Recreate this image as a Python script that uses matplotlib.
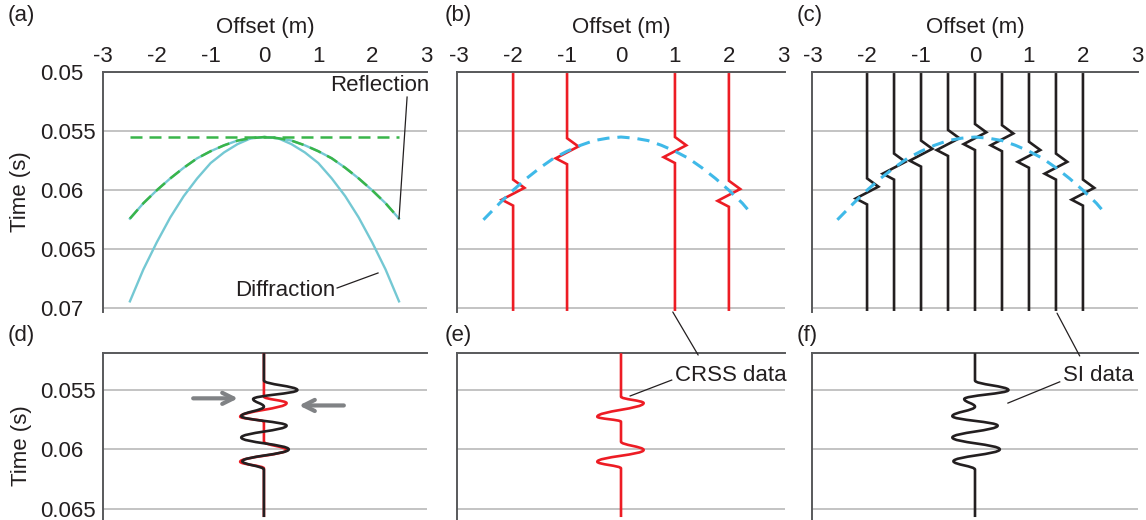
import matplotlib
matplotlib.use('Agg')
import matplotlib.pyplot as plt
from matplotlib.path import Path
from matplotlib.patches import PathPatch, ConnectionPatch

plt.rcParams['font.family'] = ['Liberation Sans', 'DejaVu Sans']
plt.rcParams['font.size'] = 16

# ---------------- data ----------------
offset_ticks = [-3, -2, -1, 0, 1, 2, 3]
offset_tick_labels = ['-3', '-2', '-1', '0', '1', '2', '3']
time_ticks_top = [0.05, 0.055, 0.06, 0.065, 0.07]
time_tick_labels_top = ['0.05', '0.055', '0.06', '0.065', '0.07']
time_ticks_bottom = [0.055, 0.06, 0.065]
time_tick_labels_bottom = ['0.055', '0.06', '0.065']

curve_offsets = [-2.5, -2.25, -2.0, -1.75, -1.5, -1.25, -1.0, -0.75, -0.5, -0.25, 0.0,
                 0.25, 0.5, 0.75, 1.0, 1.25, 1.5, 1.75, 2.0, 2.25, 2.5]
reflection_times = [0.0624, 0.0611, 0.0600, 0.0590, 0.0581, 0.0573, 0.0567, 0.0562, 0.0558, 0.0556, 0.0555,
                    0.0556, 0.0558, 0.0562, 0.0567, 0.0573, 0.0581, 0.0590, 0.0600, 0.0611, 0.0624]
diffraction_times = [0.0694, 0.0667, 0.0644, 0.0623, 0.0605, 0.0590, 0.0577, 0.0568, 0.0561, 0.0556, 0.0555,
                     0.0556, 0.0561, 0.0568, 0.0577, 0.0590, 0.0605, 0.0623, 0.0644, 0.0667, 0.0694]
flat_offsets = [-2.5, 2.5]
flat_times = [0.0555, 0.0555]

guide_offsets = [-2.55, -2.25, -2.0, -1.75, -1.5, -1.25, -1.0, -0.75, -0.5, -0.25, 0.0,
                 0.25, 0.5, 0.75, 1.0, 1.25, 1.5, 1.75, 2.0, 2.25, 2.4]
guide_times = [0.0625, 0.0611, 0.0600, 0.0590, 0.0581, 0.0573, 0.0567, 0.0562, 0.0558, 0.0556, 0.0555,
               0.0556, 0.0558, 0.0562, 0.0567, 0.0573, 0.0581, 0.0590, 0.0600, 0.0611, 0.0619]

crss_offsets = [-2, -1, 1, 2]
crss_onsets = [0.0591, 0.0556, 0.0555, 0.0592]
si_offsets = [-2, -1.5, -1, -0.5, 0, 0.5, 1, 1.5, 2]
si_onsets = [0.0590, 0.0569, 0.0558, 0.0549, 0.0544, 0.0545, 0.0559, 0.0569, 0.0591]
zig_dt = [0.0, 0.0007, 0.0017, 0.0022]
zig_amp = [0.0, 0.21, -0.21, 0.0]

red_times = [0.0519, 0.05556, 0.0561, 0.05725, 0.05767, 0.05935, 0.06005, 0.06104, 0.0616, 0.0657]
red_amps = [0, 0, 0.42, -0.44, 0, 0, 0.42, -0.44, 0, 0]
black_times = [0.0519, 0.0542, 0.0550, 0.05576, 0.0564, 0.0572, 0.0580, 0.0590, 0.0600, 0.0610, 0.0617, 0.0657]
black_amps = [0, 0, 0.62, -0.20, 0.0, -0.42, 0.42, -0.42, 0.46, -0.40, 0, 0]

# ---------------- style ----------------
W, H = 1146, 520
INK = '#231f20'
SPINE = '#58595b'
GRID = '#b3b3b3'
CYAN = '#74c8d3'
GREEN = '#39b54a'
BLUE = '#3fb9e8'
RED = '#ed1c24'
ARROW = '#808285'


def pos(l, r, t, b):
    return [l / W, 1 - b / H, (r - l) / W, (b - t) / H]


fig = plt.figure(figsize=(W / 100, H / 100), dpi=100)
ax_a = fig.add_axes(pos(103, 427, 72, 312))
ax_b = fig.add_axes(pos(457, 785, 72, 312))
ax_c = fig.add_axes(pos(812, 1138, 72, 312))
ax_d = fig.add_axes(pos(103, 427, 353, 520))
ax_e = fig.add_axes(pos(457, 785, 353, 520))
ax_f = fig.add_axes(pos(812, 1138, 353, 520))

xlims = {ax_a: (-2.98, 3.02), ax_d: (-2.98, 3.02),
         ax_b: (-3.04, 3.04), ax_e: (-3.04, 3.04),
         ax_c: (-3.02, 3.02), ax_f: (-3.02, 3.02)}

for ax in (ax_a, ax_b, ax_c, ax_d, ax_e, ax_f):
    ax.set_xlim(*xlims[ax])
    for s in ('right', 'bottom'):
        ax.spines[s].set_visible(False)
    for s in ('top', 'left'):
        ax.spines[s].set_color(SPINE)
        ax.spines[s].set_linewidth(1.4)
    ax.tick_params(length=0, colors=INK, labelsize=16)
    ax.grid(axis='y', color=GRID, lw=1.1)
    ax.set_axisbelow(True)

for ax in (ax_a, ax_b, ax_c):
    ax.set_ylim(0.0703, 0.05)
    ax.set_yticks(time_ticks_top)
    ax.xaxis.tick_top()
    ax.set_xticks(offset_ticks)
    ax.set_xticklabels(offset_tick_labels)
    ax.tick_params(axis='x', pad=3.5)
    ax.set_xlabel('Offset (m)', fontsize=16, color=INK)
    ax.xaxis.set_label_position('top')
    ax.xaxis.set_label_coords(0.5, 1.1875)
    ax.xaxis.label.set_va('center')

for ax in (ax_d, ax_e, ax_f):
    ax.set_ylim(0.06595, 0.05188)
    ax.set_yticks(time_ticks_bottom)
    ax.set_xticks([])

for ax in (ax_b, ax_c, ax_e, ax_f):
    ax.tick_params(axis='y', labelleft=False)

ax_a.set_yticklabels(time_tick_labels_top)
ax_d.set_yticklabels(time_tick_labels_bottom)
for ax in (ax_a, ax_d):
    ax.tick_params(axis='y', pad=45.4)
    for lab in ax.get_yticklabels():
        lab.set_ha('left')
    ax.set_ylabel('Time (s)', fontsize=16, color=INK)
    ax.yaxis.label.set_va('center')
ax_a.yaxis.set_label_coords(-0.256, 0.5)
ax_d.yaxis.set_label_coords(-0.253, 0.443)


def smooth_wavelet(ax, x0, amps, times, color, lw, k=0.4, z=3):
    verts = [(x0 + amps[0], times[0])]
    codes = [Path.MOVETO]
    for i in range(len(amps) - 1):
        dt = times[i + 1] - times[i]
        verts += [(x0 + amps[i], times[i] + k * dt),
                  (x0 + amps[i + 1], times[i + 1] - k * dt),
                  (x0 + amps[i + 1], times[i + 1])]
        codes += [Path.CURVE4] * 3
    ax.add_patch(PathPatch(Path(verts, codes), fill=False, ec=color, lw=lw,
                           capstyle='butt', joinstyle='round', zorder=z))


def zigzag_trace(ax, x0, onset, color, lw):
    ts = [0.0502] + [onset + d for d in zig_dt] + [0.0701]
    xs = [x0] + [x0 + a for a in zig_amp] + [x0]
    ax.plot(xs, ts, color=color, lw=lw, solid_joinstyle='miter', zorder=3)


# (a)
ax_a.plot(curve_offsets, diffraction_times, color=CYAN, lw=1.7, zorder=3)
ax_a.plot(curve_offsets, reflection_times, color=CYAN, lw=1.7, zorder=3)
ax_a.plot(curve_offsets, reflection_times, color=GREEN, lw=1.8, dashes=(4.8, 2.8), zorder=4)
ax_a.plot(flat_offsets, flat_times, color=GREEN, lw=1.8, dashes=(4.8, 2.8), zorder=4)
ax_a.text(3.07, 0.05118, 'Reflection', ha='right', va='center', color=INK, fontsize=16)
ax_a.plot([2.65, 2.5], [0.05212, 0.0624], color=INK, lw=0.9, clip_on=False, zorder=5)
ax_a.text(-0.54, 0.06844, 'Diffraction', ha='left', va='center', color=INK, fontsize=16)
ax_a.plot([1.35, 2.11], [0.06827, 0.0670], color=INK, lw=0.9, zorder=5)

# (b)
for x0, on in zip(crss_offsets, crss_onsets):
    zigzag_trace(ax_b, x0, on, RED, 1.9)
ax_b.plot(guide_offsets, guide_times, color=BLUE, lw=2.2, dashes=(4, 2.6), zorder=4)

# (c)
for x0, on in zip(si_offsets, si_onsets):
    zigzag_trace(ax_c, x0, on, INK, 1.9)
ax_c.plot(guide_offsets, guide_times, color=BLUE, lw=2.2, dashes=(4, 2.6), zorder=4)

# (d)
smooth_wavelet(ax_d, 0.0, red_amps, red_times, RED, 1.9, z=3)
smooth_wavelet(ax_d, 0.0, black_amps, black_times, INK, 1.9, z=4)
arrow_kw = dict(arrowstyle='->', lw=3, color=ARROW, mutation_scale=20, shrinkA=0, shrinkB=0)
ax_d.annotate('', xy=(-0.48, 0.0557), xytext=(-1.31, 0.0557), arrowprops=arrow_kw)
ax_d.annotate('', xy=(0.65, 0.0563), xytext=(1.48, 0.0563), arrowprops=arrow_kw)

# (e)
smooth_wavelet(ax_e, 0.0, red_amps, red_times, RED, 1.9)
ax_e.text(1.0, 0.05374, 'CRSS data', ha='left', va='center', color=INK, fontsize=16)
ax_e.plot([0.94, 0.17], [0.05416, 0.0555], color=INK, lw=0.9, zorder=5)
fig.add_artist(ConnectionPatch((0.96, 0.0703), (1.43, 0.05205), coordsA=ax_b.transData,
                               coordsB=ax_e.transData, color=INK, lw=0.9))

# (f)
smooth_wavelet(ax_f, 0.0, black_amps, black_times, INK, 1.9)
ax_f.text(1.63, 0.05374, 'SI data', ha='left', va='center', color=INK, fontsize=16)
ax_f.plot([1.57, 0.61], [0.05431, 0.0561], color=INK, lw=0.9, zorder=5)
fig.add_artist(ConnectionPatch((1.52, 0.0704), (1.94, 0.05213), coordsA=ax_c.transData,
                               coordsB=ax_f.transData, color=INK, lw=0.9))

# panel letters
for lbl, (px, py) in zip(['(a)', '(b)', '(c)', '(d)', '(e)', '(f)'],
                         [(8, 15), (445, 15), (797, 15), (8, 335), (445, 335), (797, 335)]):
    fig.text(px / W, 1 - py / H, lbl, ha='left', va='center', color=INK, fontsize=16)

fig.savefig('out.png', dpi=100)
